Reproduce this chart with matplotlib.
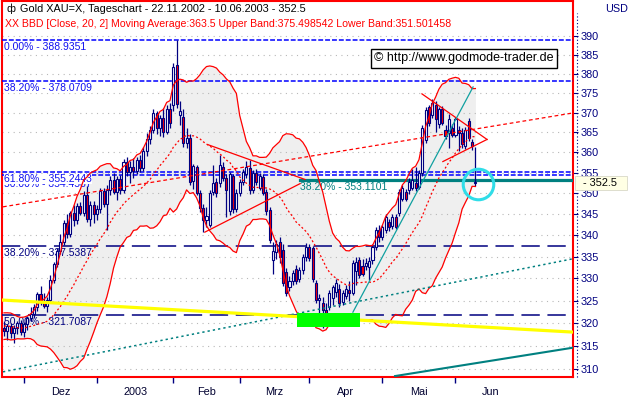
import matplotlib
matplotlib.use("Agg")
import matplotlib.pyplot as plt
import numpy as np
import pandas as pd
from matplotlib.patches import Rectangle
from matplotlib.lines import Line2D
from matplotlib.ticker import FixedLocator, FixedFormatter, NullLocator

plt.rcParams['font.family'] = ['Liberation Sans', 'DejaVu Sans']

# Gold XAU=X daily candles, 22.11.2002 - 10.06.2003 (one value per trading day)
opens = [319.0, 318.3, 319.3, 317.8, 318.8, 319.9, 318.1, 319.7, 321.0, 321.9,
         323.5, 326.4, 324.8, 323.8, 325.2, 329.7, 333.2, 336.2, 338.5, 342.8,
         340.2, 345.2, 343.5, 346.9, 345.3, 349.6, 343.9, 347.1, 345.0, 346.1,
         350.5, 347.3, 350.7, 353.2, 350.2, 353.5, 350.7, 357.6, 355.2, 356.4,
         355.3, 358.1, 356.0, 360.3, 363.2, 365.7, 369.8, 366.2, 368.5, 365.1,
         371.0, 371.9, 382.3, 369.3, 368.9, 362.4, 363.6, 352.9, 356.3, 350.0,
         346.4, 343.5, 342.4, 350.3, 352.7, 352.4, 356.4, 353.7, 345.7, 354.2,
         346.1, 350.0, 352.7, 354.6, 356.2, 350.7, 354.8, 351.3, 354.0, 350.3,
         346.0, 334.2, 336.0, 338.4, 336.6, 331.5, 328.0, 329.3, 332.1, 329.8,
         331.9, 334.8, 337.3, 336.9, 329.0, 325.1, 324.5, 322.9, 323.6, 325.5,
         326.9, 327.5, 324.7, 326.0, 327.4, 326.7, 331.6, 334.2, 332.8, 332.8,
         332.6, 334.2, 337.3, 341.3, 339.6, 341.3, 343.2, 342.2, 344.3, 345.2,
         348.7, 350.3, 350.7, 351.3, 352.5, 351.5, 354.8, 363.0, 371.4, 369.3,
         372.0, 367.2, 370.9, 365.6, 364.8, 366.2, 364.4, 365.6, 364.9, 361.5,
         367.8, 362.6, 352.6]
highs = [320.4, 319.7, 320.1, 319.5, 320.5, 320.7, 320.3, 321.6, 323.6, 324.2,
         326.9, 328.2, 326.8, 325.7, 330.7, 333.8, 337.0, 340.3, 343.5, 344.9,
         345.7, 347.2, 347.7, 347.9, 350.5, 351.7, 348.2, 348.1, 347.2, 351.2,
         351.3, 351.9, 354.1, 355.0, 354.2, 354.5, 358.4, 358.8, 357.8, 358.6,
         358.8, 359.3, 361.3, 364.9, 366.5, 370.8, 370.4, 369.5, 371.2, 371.9,
         372.5, 382.9, 388.94, 373.0, 370.9, 366.2, 364.5, 357.2, 356.8, 350.7,
         347.3, 346.7, 350.7, 356.8, 353.7, 359.4, 357.6, 354.7, 355.2, 354.7,
         350.9, 353.5, 355.8, 357.8, 358.0, 355.6, 355.8, 354.8, 354.6, 350.9,
         346.7, 338.3, 338.8, 339.6, 337.9, 332.3, 330.6, 331.9, 333.1, 332.7,
         335.6, 338.1, 337.9, 337.5, 329.7, 326.5, 325.7, 324.5, 327.4, 328.5,
         329.8, 328.7, 327.4, 328.5, 329.3, 334.2, 334.8, 335.0, 334.4, 334.6,
         334.8, 337.9, 341.8, 342.4, 342.4, 344.9, 343.9, 345.1, 344.9, 350.9,
         351.9, 351.1, 353.7, 355.8, 356.4, 355.6, 366.8, 371.4, 372.0, 373.6,
         372.9, 371.4, 371.6, 366.8, 369.7, 367.2, 368.9, 366.6, 366.2, 366.4,
         368.5, 363.2, 361.4]
lows = [317.2, 316.3, 316.8, 315.6, 317.6, 317.4, 317.0, 318.5, 320.5, 321.2,
        322.7, 324.1, 323.3, 322.5, 324.5, 328.9, 332.5, 335.6, 337.7, 339.4,
        339.6, 342.2, 342.7, 344.7, 344.5, 343.2, 342.1, 342.9, 343.5, 345.3,
        346.6, 341.2, 349.5, 349.7, 348.3, 349.9, 350.1, 354.1, 352.5, 353.7,
        354.6, 355.2, 355.4, 359.1, 362.0, 364.9, 364.5, 364.1, 363.9, 364.5,
        366.0, 370.4, 371.1, 366.9, 361.4, 361.0, 351.9, 351.1, 349.5, 345.5,
        340.8, 341.9, 341.8, 349.5, 349.1, 351.5, 352.9, 344.3, 344.7, 345.3,
        345.5, 349.3, 351.9, 353.6, 349.7, 350.1, 351.9, 350.7, 349.5, 344.7,
        338.2, 331.1, 334.4, 333.6, 328.3, 326.0, 327.2, 328.5, 328.7, 329.1,
        330.9, 334.0, 334.0, 329.1, 324.5, 322.3, 318.8, 319.4, 322.9, 324.1,
        325.8, 323.6, 324.0, 325.3, 324.9, 326.2, 328.5, 330.2, 330.6, 331.9,
        329.7, 333.4, 336.5, 338.4, 338.8, 340.6, 341.0, 341.4, 341.4, 344.5,
        348.1, 348.1, 349.9, 350.7, 350.5, 350.9, 354.2, 362.2, 366.6, 368.5,
        365.1, 366.2, 366.8, 363.3, 361.0, 363.7, 363.9, 360.2, 361.0, 360.8,
        362.8, 360.5, 351.6]
closes = [318.3, 319.3, 317.8, 318.8, 319.9, 318.1, 319.7, 321.0, 321.9, 323.5,
          326.4, 324.8, 323.8, 325.2, 329.7, 333.2, 336.2, 338.5, 342.8, 340.2,
          345.2, 343.5, 346.9, 345.3, 349.6, 343.9, 347.1, 345.0, 346.1, 350.5,
          347.3, 350.7, 353.2, 350.2, 353.5, 350.7, 357.6, 355.2, 356.4, 355.3,
          358.1, 356.0, 360.3, 363.2, 365.7, 369.8, 366.2, 368.5, 365.1, 371.0,
          367.4, 381.8, 372.1, 370.4, 362.2, 363.6, 352.7, 356.6, 350.1, 346.4,
          343.5, 344.5, 350.0, 352.4, 350.1, 356.8, 353.7, 350.7, 354.6, 346.1,
          350.1, 352.7, 355.1, 356.4, 350.7, 354.8, 352.7, 354.2, 350.1, 345.7,
          338.8, 336.2, 337.9, 334.8, 329.0, 326.6, 329.3, 331.3, 329.3, 331.9,
          334.8, 337.3, 334.7, 329.8, 325.1, 325.5, 322.9, 321.6, 326.7, 328.0,
          329.0, 324.5, 326.8, 327.6, 326.7, 333.5, 333.7, 330.8, 331.0, 333.5,
          334.0, 337.3, 341.3, 339.6, 341.8, 344.3, 341.8, 344.3, 341.8, 350.3,
          351.3, 348.7, 352.7, 353.2, 351.3, 354.8, 366.2, 370.6, 367.4, 372.5,
          368.3, 370.9, 367.4, 364.1, 368.3, 364.4, 368.3, 364.9, 362.0, 365.6,
          363.6, 361.5, 352.5]
# closes of the 19 days before the window, needed for the 20-day bands
pre_closes = [318.4, 320.1, 321.6, 322.0, 320.6, 319.0, 317.5, 318.2, 319.9, 321.1,
              321.4, 320.2, 318.7, 317.2, 316.9, 318.0, 319.6, 319.1, 318.5]

# fibonacci levels
blue_levels = [388.9351, 378.0709, 355.2443]
blue_labels = ['0.00% - 388.9351', '38.20% - 378.0709', '61.80% - 355.2443']
# second set, its label lies mostly under the 61.8% one
hidden_level = 354.4587
hidden_label = '50.00% - 354.4587'
navy_levels = [337.5387, 321.7087]
navy_labels = ['38.20% - 337.5387', '50.00% - 321.7087']
teal_level = 353.1101
teal_label = '38.20% - 353.1101'

# hand drawn lines: (x0, x1) in trading days, (y0, y1) in USD
red_trend = ([-0.3, 171.4], [346.7, 369.9])
tri1_upper = ([61.4, 90.7], [361.9, 353.3])
tri1_lower = ([60.5, 89.2], [340.7, 352.3])
tri2_upper = ([125.9, 145.5], [374.8, 363.2])
tri2_lower = ([132.2, 145.5], [357.7, 363.2])
teal_up = ([105.1, 141.3], [322.4, 376.6])
teal_dotted = ([-0.3, 171.4], [309.4, 334.5])
teal_low = ([117.8, 171.4], [308.5, 314.6])
yellow_line = ([-0.3, 171.4], [325.1, 318.0])
green_zone = ([88.3, 107.2], [319.1, 322.2])
circle_mark = (142.8, 352.3)

month_names = ['Dez', '2003', 'Feb', 'Mrz', 'Apr', 'Mai', 'Jun']
price_ticks = list(range(310, 395, 5))
last_price = 352.5

navy = '#000080'
teal = '#008080'

dates = pd.bdate_range('2002-11-22', periods=len(closes))
x = np.arange(len(closes))

s = pd.Series(pre_closes + closes)
n0 = len(pre_closes)
mid = s.rolling(20).mean().to_numpy()[n0:]
sd = s.rolling(20).std(ddof=0).to_numpy()[n0:]
upper = mid + 2 * sd
lower = mid - 2 * sd

fig = plt.figure(figsize=(6.28, 3.98), dpi=100)
ax = fig.add_axes([2 / 628, 21 / 398, 571 / 628, 376 / 398])
ax.set_yscale('log')
ax.set_xlim(-0.6, 171.4)
ax.set_ylim(308.3, 399.6)

# bollinger area
ax.fill_between(x, lower, upper, color='#efefef', lw=0, zorder=1)
ax.hlines(price_ticks, -0.6, 171.4, colors='#b8b8b8', linestyles=(0, (1, 4)), lw=0.8, zorder=2)

# fibonacci lines
for lv in blue_levels + [hidden_level]:
    ax.axhline(lv, color='#0000ff', lw=1.1, ls=(0, (3.2, 1.3)), zorder=3)
for lv in navy_levels:
    ax.axhline(lv, color=navy, lw=1.1, ls=(0, (12, 5)), zorder=3)
ax.plot([89.2, 171.4], [teal_level, teal_level], color=teal, lw=2.3, zorder=3)

ax.annotate(hidden_label, xy=(0.004, hidden_level), xycoords=('axes fraction', 'data'),
            xytext=(0, -3), textcoords='offset points', va='top', fontsize=7.5,
            color='#1010f0', zorder=3.4)
for lv, lb in zip(blue_levels, blue_labels):
    ax.annotate(lb, xy=(0.004, lv), xycoords=('axes fraction', 'data'), xytext=(0, -1.5),
                textcoords='offset points', va='top', fontsize=7.5, color='#1010f0', zorder=3.5,
                bbox=dict(boxstyle='square,pad=0', fc='white', ec='none'))
for lv, lb in zip(navy_levels, navy_labels):
    ax.annotate(lb, xy=(0.004, lv), xycoords=('axes fraction', 'data'), xytext=(0, -1.5),
                textcoords='offset points', va='top', fontsize=7.5, color=navy, zorder=3.5)
ax.annotate(teal_label, xy=(89.2, teal_level), xytext=(0, -1.5), textcoords='offset points',
            va='top', fontsize=7.5, color=teal, zorder=3.5)

# candles
o = np.array(opens)
c = np.array(closes)
ax.vlines(x, lows, highs, color=navy, lw=0.9, zorder=4)
body_lo = np.minimum(o, c)
body_h = np.maximum(np.abs(c - o), 0.15)
body_col = np.where(c >= o, 'white', '#ff0000')
ax.bar(x, body_h, bottom=body_lo, width=0.62, color=body_col, edgecolor=navy, lw=0.8, zorder=5)

# bands
ax.plot(x, upper, color='red', lw=0.9, zorder=6)
ax.plot(x, lower, color='red', lw=0.9, zorder=6)
ax.plot(x, mid, color='red', lw=0.9, ls=(0, (1.6, 1.8)), zorder=6)

# trend lines
ax.plot(*red_trend, color='red', lw=0.9, ls=(0, (3, 2.2)), zorder=7)
for ln in (tri1_upper, tri1_lower, tri2_upper, tri2_lower):
    ax.plot(*ln, color='red', lw=0.9, zorder=7)
ax.plot(*teal_up, color='#10a0a0', lw=0.9, zorder=7)
ax.plot(*teal_dotted, color=teal, lw=1.1, ls=(0, (1.5, 2.0)), zorder=7)
ax.plot(*teal_low, color=teal, lw=1.5, zorder=7)
ax.plot(*yellow_line, color='#ffff00', lw=2.3, zorder=7)
ax.add_patch(Rectangle((green_zone[0][0], green_zone[1][0]), green_zone[0][1] - green_zone[0][0],
                       green_zone[1][1] - green_zone[1][0], color='#00ff00', lw=0, zorder=8))
ax.plot(*circle_mark, 'o', ms=22, mfc='none', mec='#30dde8', mew=2.2, zorder=9)

# axes styling
for sp in ax.spines.values():
    sp.set_color('red')
    sp.set_linewidth(1.5)

ax.yaxis.tick_right()
ax.yaxis.set_major_locator(FixedLocator(price_ticks))
ax.yaxis.set_major_formatter(FixedFormatter([str(t) for t in price_ticks]))
ax.yaxis.set_minor_locator(NullLocator())
ax.tick_params(axis='y', which='major', direction='out', length=3.5, width=0.8,
               color=navy, labelcolor=navy, labelsize=7.8, pad=2)

cal = pd.bdate_range('2002-11-22', '2003-07-31')
starts = np.flatnonzero(cal.month != np.roll(cal.month, 1))[1:]
centers = (starts[:-1] + starts[1:]) / 2
ax.set_xticks(starts[:-1])
ax.set_xticklabels([])
ax.set_xticks(centers, minor=True)
ax.set_xticklabels(month_names, minor=True)
ax.tick_params(axis='x', which='major', direction='out', length=4.5, width=1, color=navy)
ax.tick_params(axis='x', which='minor', length=0, pad=7.5, labelsize=7.8, labelcolor='#000030')

# right side scale decoration
fig.add_artist(Line2D([576.5 / 628, 576.5 / 628], [21 / 398, 385 / 398], color=navy, lw=0.8,
                      ls=(0, (1, 2))))
fig.patches.append(Rectangle((575 / 628, (398 - 189.5) / 398), 52 / 628, 13.5 / 398,
                             transform=fig.transFigure, fc='#ffffe4', ec='#d8d8c8', lw=0.6, zorder=5))
fig.text(583 / 628, 1 - 183 / 398, '- ' + str(last_price), fontsize=7.8, color='black',
         va='center', zorder=6)
fig.text(605 / 628, 1 - 9 / 398, 'USD', fontsize=7.8, color=navy, va='center')

# header
fig.text(7 / 628, 1 - 9 / 398, 'ф', fontsize=7.8, color='black', va='center')
fig.text(20 / 628, 1 - 9 / 398, 'Gold XAU=X, Tageschart - 22.11.2002 - 10.06.2003 - ' + str(last_price),
         fontsize=7.8, color='black', va='center')
fig.text(5 / 628, 1 - 24 / 398,
         'XX BBD [Close, 20, 2] Moving Average:363.5 Upper Band:375.498542 Lower Band:351.501458',
         fontsize=7.6, color='#ff0000', va='center')
fig.text(464 / 628, 1 - 58.5 / 398, '© http://www.godmode-trader.de', fontsize=9, color='black',
         ha='center', va='center',
         bbox=dict(boxstyle='square,pad=0.25', fc='white', ec='black', lw=1))

fig.savefig('out.png', dpi=100, facecolor='white')
